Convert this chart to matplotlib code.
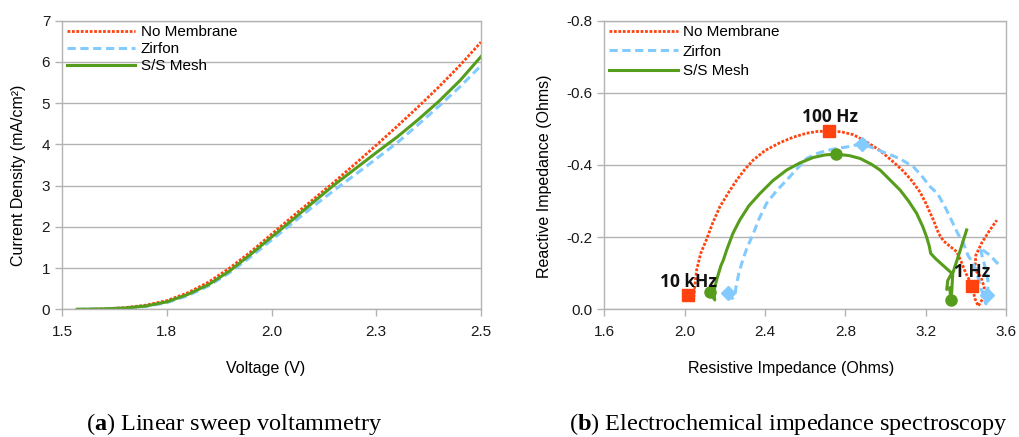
import matplotlib.pyplot as plt
import numpy as np

plt.rcParams['font.family'] = ['Liberation Sans', 'DejaVu Sans']
plt.rcParams['axes.unicode_minus'] = False
plt.rcParams['mathtext.fontset'] = 'custom'
plt.rcParams['mathtext.rm'] = 'Liberation Serif'
plt.rcParams['mathtext.bf'] = 'Liberation Serif:bold'

# (a) Linear sweep voltammetry: voltage (V) and current density (mA/cm2)
lsv_v_none = [1.568, 1.60, 1.65, 1.70, 1.75, 1.80, 1.85, 1.90, 1.95, 2.00, 2.05,
              2.10, 2.15, 2.20, 2.25, 2.30, 2.35, 2.40, 2.45, 2.50]
lsv_j_none = [0.00, 0.01, 0.04, 0.10, 0.21, 0.40, 0.66, 1.00, 1.39, 1.82, 2.25,
              2.67, 3.09, 3.53, 3.98, 4.44, 4.91, 5.40, 5.92, 6.48]
lsv_v_zirfon = [1.536, 1.60, 1.65, 1.70, 1.75, 1.80, 1.85, 1.90, 1.95, 2.00, 2.05,
                2.10, 2.15, 2.20, 2.25, 2.30, 2.35, 2.40, 2.45, 2.50]
lsv_j_zirfon = [0.00, 0.01, 0.03, 0.07, 0.16, 0.33, 0.57, 0.89, 1.27, 1.68, 2.09,
                2.50, 2.89, 3.27, 3.65, 4.04, 4.48, 4.93, 5.40, 5.91]
lsv_v_mesh = [1.536, 1.60, 1.65, 1.70, 1.75, 1.80, 1.85, 1.90, 1.95, 2.00, 2.05,
              2.10, 2.15, 2.20, 2.25, 2.30, 2.35, 2.40, 2.45, 2.50]
lsv_j_mesh = [0.00, 0.01, 0.03, 0.08, 0.18, 0.36, 0.60, 0.93, 1.33, 1.75, 2.17,
              2.60, 3.02, 3.41, 3.80, 4.18, 4.60, 5.05, 5.55, 6.13]
lsv_xticks = [1.5, 1.75, 2.0, 2.25, 2.5]
lsv_xticklabels = ['1.5', '1.8', '2.0', '2.3', '2.5']

# (b) Nyquist plot: resistive (Ohms) and reactive (Ohms) impedance
eis_r_none = [2.043, 2.05, 2.06, 2.08, 2.11, 2.14, 2.176, 2.22, 2.259, 2.30, 2.342,
              2.40, 2.475, 2.54, 2.607, 2.66, 2.72, 2.78, 2.84, 2.90, 2.973, 3.03,
              3.089, 3.13, 3.172, 3.20, 3.238, 3.265, 3.288, 3.32, 3.354, 3.375,
              3.40, 3.432, 3.445, 3.462, 3.485, 3.492, 3.475, 3.445, 3.45, 3.48,
              3.52, 3.554]
eis_x_none = [-0.02, -0.06, -0.11, -0.155, -0.195, -0.24, -0.285, -0.325, -0.358,
              -0.388, -0.414, -0.440, -0.462, -0.477, -0.488, -0.493, -0.494,
              -0.492, -0.484, -0.466, -0.440, -0.413, -0.383, -0.357, -0.325,
              -0.295, -0.248, -0.21, -0.19, -0.175, -0.16, -0.135, -0.10, -0.065,
              -0.03, -0.009, -0.03, -0.06, -0.09, -0.11, -0.15, -0.185, -0.22,
              -0.247]
eis_r_zirfon = [2.217, 2.235, 2.25, 2.255, 2.27, 2.284, 2.31, 2.342, 2.37, 2.408,
                2.46, 2.508, 2.56, 2.607, 2.66, 2.707, 2.76, 2.807, 2.85, 2.881,
                2.94, 3.006, 3.07, 3.139, 3.18, 3.222, 3.26, 3.30, 3.33, 3.36,
                3.388, 3.41, 3.437, 3.46, 3.48, 3.50, 3.51, 3.51, 3.49, 3.47,
                3.52, 3.57]
eis_x_zirfon = [-0.044, -0.03, -0.035, -0.06, -0.10, -0.127, -0.17, -0.21, -0.25,
                -0.294, -0.33, -0.358, -0.39, -0.418, -0.432, -0.44, -0.446, -0.45,
                -0.455, -0.458, -0.447, -0.432, -0.418, -0.395, -0.37, -0.34,
                -0.32, -0.28, -0.245, -0.21, -0.183, -0.15, -0.127, -0.09, -0.05,
                -0.015, -0.04, -0.08, -0.13, -0.17, -0.15, -0.12]
eis_r_mesh = [2.126, 2.14, 2.15, 2.145, 2.15, 2.159, 2.18, 2.193, 2.209, 2.24,
              2.275, 2.32, 2.375, 2.44, 2.508, 2.575, 2.641, 2.70, 2.754, 2.82,
              2.874, 2.93, 2.973, 3.02, 3.072, 3.115, 3.155, 3.185, 3.205, 3.218,
              3.225, 3.25, 3.29, 3.33, 3.31, 3.305, 3.32, 3.325, 3.33, 3.335, 3.37,
              3.404]
eis_x_mesh = [-0.049, -0.035, -0.026, -0.045, -0.06, -0.081, -0.12, -0.137, -0.164,
              -0.21, -0.248, -0.287, -0.321, -0.357, -0.386, -0.406, -0.421, -0.428,
              -0.43, -0.426, -0.418, -0.402, -0.386, -0.36, -0.331, -0.30, -0.266,
              -0.23, -0.20, -0.175, -0.155, -0.14, -0.12, -0.10, -0.08, -0.055,
              -0.06, -0.026, -0.05, -0.10, -0.16, -0.22]

# frequency markers (10 kHz, 100 Hz, 1 Hz)
freq_labels = ['10 kHz', '100 Hz', '1 Hz']
mk_r_none = [2.018, 2.72, 3.432]
mk_x_none = [-0.040, -0.494, -0.065]
mk_r_zirfon = [2.217, 2.881, 3.504]
mk_x_zirfon = [-0.044, -0.458, -0.040]
mk_r_mesh = [2.126, 2.754, 3.325]
mk_x_mesh = [-0.049, -0.430, -0.026]
freq_label_r = [2.017, 2.724, 3.433]
freq_label_x = [-0.077, -0.534, -0.104]

eis_xticks = [1.6, 2.0, 2.4, 2.8, 3.2, 3.6]
eis_yticks = [0.0, -0.2, -0.4, -0.6, -0.8]

labels = ['No Membrane', 'Zirfon', 'S/S Mesh']
red, blue, green = '#ff420e', '#83caff', '#579d1c'
grey = '#b3b3b3'

fig = plt.figure(figsize=(10.19, 4.37), dpi=100)
bottom = 1 - 309.3 / 437
height = (309.3 - 20.7) / 437
ax1 = fig.add_axes([62 / 1019, bottom, 419 / 1019, height])
ax2 = fig.add_axes([604.3 / 1019, bottom, 401.7 / 1019, height])

styles = [dict(color=red, lw=2.0, ls=(0, (1, 0.6)), dash_capstyle='butt'),
          dict(color=blue, lw=2.2, ls=(0, (2.7, 1.5)), dash_capstyle='butt'),
          dict(color=green, lw=2.2, ls='-')]


def style_axes(ax):
    for s in ax.spines.values():
        s.set_color(grey)
        s.set_linewidth(1.0)
    ax.grid(axis='y', color=grey, lw=1.0)
    ax.set_axisbelow(True)
    ax.tick_params(axis='both', colors=grey, labelcolor='#1a1a1a',
                   labelsize=11, length=5, width=1.0)
    ax.tick_params(axis='x', pad=6)
    ax.tick_params(axis='y', pad=3.5)


# (a) LSV
ax1.plot(lsv_v_none, lsv_j_none, label=labels[0], **styles[0])
ax1.plot(lsv_v_zirfon, lsv_j_zirfon, label=labels[1], **styles[1])
ax1.plot(lsv_v_mesh, lsv_j_mesh, label=labels[2], **styles[2])
ax1.set_xlim(1.5, 2.5)
ax1.set_ylim(0, 7)
ax1.set_xticks(lsv_xticks)
ax1.set_xticklabels(lsv_xticklabels)
ax1.set_yticks(range(8))
style_axes(ax1)
ax1.set_xlabel('Voltage (V)', fontsize=11.5)
ax1.xaxis.set_label_coords(0.487, -0.179)
ax1.set_ylabel('Current Density (mA/cm²)', fontsize=11.5, va='center')
ax1.yaxis.set_label_coords(-0.104, 0.465)
ax1.legend(loc='upper left', frameon=False, fontsize=11, handlelength=4.5,
           handletextpad=0.35, labelspacing=0.2, borderaxespad=0.1,
           borderpad=0.2)

# (b) EIS
ax2.plot(eis_r_none, eis_x_none, label=labels[0], **styles[0])
ax2.plot(eis_r_zirfon, eis_x_zirfon, label=labels[1], **styles[1])
ax2.plot(eis_r_mesh, eis_x_mesh, label=labels[2], **styles[2])
ax2.plot(mk_r_none, mk_x_none, ls='none', marker='s', ms=8.5, color=red)
ax2.plot(mk_r_zirfon, mk_x_zirfon, ls='none', marker='D', ms=7, color=blue)
ax2.plot(mk_r_mesh, mk_x_mesh, ls='none', marker='o', ms=8, color=green)
for t, r, x in zip(freq_labels, freq_label_r, freq_label_x):
    ax2.text(r, x, t, ha='center', va='center', fontsize=12.5,
             fontweight='bold', family='Open Sans', color='#111111')
ax2.set_xlim(1.6, 3.6)
ax2.set_ylim(0, -0.8)
ax2.set_xticks(eis_xticks)
ax2.set_xticklabels(['%.1f' % v for v in eis_xticks])
ax2.set_yticks(eis_yticks)
ax2.set_yticklabels(['%.1f' % v if v != 0 else '0.0' for v in eis_yticks])
style_axes(ax2)
ax2.set_xlabel('Resistive Impedance (Ohms)', fontsize=11.5)
ax2.xaxis.set_label_coords(0.464, -0.179)
ax2.set_ylabel('Reactive Impedance (Ohms)', fontsize=11.5, va='center')
ax2.yaxis.set_label_coords(-0.148, 0.462)
ax2.legend(loc='upper left', frameon=False, fontsize=11, handlelength=4.5,
           handletextpad=0.35, labelspacing=0.35, borderaxespad=0.1,
           borderpad=0.2)

# sub-captions
fig.text(86 / 1019, 7 / 437, r'($\mathbf{a}$) Linear sweep voltammetry',
         ha='left', va='baseline', fontsize=17.5, family='Liberation Serif')
fig.text(1008 / 1019, 7 / 437,
         r'($\mathbf{b}$) Electrochemical impedance spectroscopy',
         ha='right', va='baseline', fontsize=17.5, family='Liberation Serif')

fig.savefig('out.png', dpi=100)
